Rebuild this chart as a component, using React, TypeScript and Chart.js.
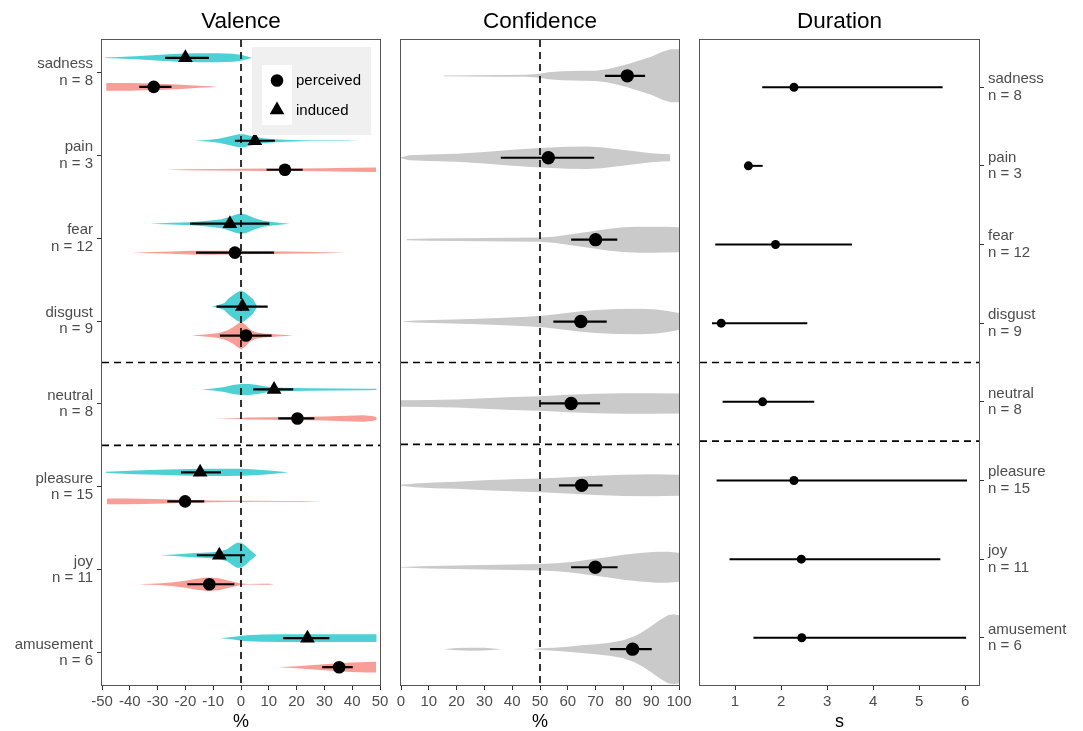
import React, { useEffect, useRef } from 'react';
import { Chart, registerables } from 'chart.js';

Chart.register(...registerables);

const FONT = "'Liberation Sans', Arial, Helvetica, sans-serif";

// ---------- data ----------
const categories = ['sadness', 'pain', 'fear', 'disgust', 'neutral', 'pleasure', 'joy', 'amusement'];
const counts = [8, 3, 12, 9, 8, 15, 11, 6];

const valenceTicks = [-50, -40, -30, -20, -10, 0, 10, 20, 30, 40, 50];
const confidenceTicks = [0, 10, 20, 30, 40, 50, 60, 70, 80, 90, 100];
const durationTicks = [1, 2, 3, 4, 5, 6];

const valenceInducedMean = [-20, 5, -4, 0.5, 11.9, -14.7, -7.8, 23.9];
const valenceInducedLow = [-27.3, -2.2, -18.3, -8.8, 4.4, -21.6, -15.9, 15.2];
const valenceInducedHigh = [-11.5, 12.2, 10.2, 9.6, 18.8, -7.2, 1.4, 31.8];

const valencePerceivedMean = [-31.4, 15.8, -2.2, 1.8, 20.3, -20.1, -11.4, 35.3];
const valencePerceivedLow = [-36.6, 9.2, -16.2, -7.6, 13.4, -26.5, -19.3, 29.2];
const valencePerceivedHigh = [-25, 22.2, 11.9, 11, 26.4, -13.2, -2.4, 40.2];

const confidenceMean = [81.4, 53, 70, 64.7, 61.2, 65, 69.9, 83.3];
const confidenceLow = [73.4, 35.9, 61.2, 54.8, 49.9, 56.8, 61.2, 75.2];
const confidenceHigh = [87.8, 69.5, 77.8, 74, 71.6, 72.5, 77.9, 90.2];

const durationMean = [2.28, 1.29, 1.88, 0.7, 1.6, 2.28, 2.44, 2.45];
const durationLow = [1.59, 1.27, 0.57, 0.5, 0.73, 0.6, 0.88, 1.4];
const durationHigh = [5.51, 1.6, 3.54, 2.57, 2.72, 6.04, 5.46, 6.02];

// violin density profiles: [value, relative half-width]
const valenceInducedViolin: number[][][] = [
  [[-49, 0.3], [-44, 0.8], [-38, 1.5], [-32, 2.5], [-26, 3.5], [-20, 4.2], [-14, 4.5], [-8, 4.5], [-3, 4], [0, 3], [2, 1.5], [4, 0]],
  [[-16.5, 0], [-12, 0.8], [-8, 2], [-4, 4.5], [-1, 6.5], [1, 6.5], [4, 4.5], [8, 2.5], [12, 1.5], [16, 1], [22, 0.5], [26, 0.3], [32, 0.3], [38, 0.3], [42, 0]],
  [[-32.7, 0], [-25, 0.8], [-18, 1.5], [-12, 2.8], [-7, 4.5], [-4, 7], [-2, 9], [0, 10.3], [2, 9], [5, 5.5], [8, 3], [12, 1.5], [17.4, 0]],
  [[-10.5, 0], [-8, 1.5], [-6, 3.5], [-4.5, 8], [-3, 11], [-1.5, 14], [0, 16], [1.5, 14], [3, 10.5], [4.3, 7.5], [5.2, 3], [6, 0]],
  [[-14.1, 0], [-10, 1], [-6, 2.5], [-3, 4.5], [0, 5.5], [3, 5.5], [6, 4.5], [9, 3], [12, 2], [18, 1.5], [25, 1.3], [35, 1], [45, 0.8], [48.8, 0.6]],
  [[-48.8, 0.5], [-44, 1.2], [-38, 1.8], [-30, 2.5], [-22, 3.2], [-14, 3.6], [-6, 3.7], [0, 3.5], [5, 2.8], [10, 1.8], [14, 0.8], [17, 0]],
  [[-29, 0], [-24, 0.8], [-18, 2], [-12, 2.8], [-8, 3.5], [-5, 6], [-3, 10], [-1.5, 12.5], [0, 12.5], [1.5, 10], [3, 6], [5.6, 0]],
  [[-7.5, 0], [-4, 0.8], [-1, 2], [2, 3], [8, 3.6], [15, 3.8], [25, 3.8], [35, 3.8], [45, 3.8], [48.8, 3.8]],
];

const valencePerceivedViolin: number[][][] = [
  [[-48.5, 3.8], [-45, 3.9], [-40, 3.8], [-35, 3.5], [-30, 3.2], [-25, 2.6], [-20, 1.8], [-15, 1], [-11, 0.5], [-8.5, 0]],
  [[-27, 0], [-20, 0.5], [-10, 0.8], [0, 1], [10, 1.2], [20, 1.3], [30, 1.5], [40, 2], [48.6, 2.2]],
  [[-39.3, 0], [-32, 0.6], [-25, 1.2], [-18, 1.8], [-10, 2], [-4, 1.8], [0, 1.5], [8, 1.3], [15, 1.1], [22, 0.8], [30, 0.5], [38, 0]],
  [[-17.7, 0], [-12, 1.2], [-8, 2.5], [-5, 5], [-3, 8], [-1, 12], [0, 14], [1.5, 11], [3, 6.5], [5, 3.5], [8, 2], [12, 1.2], [18.8, 0]],
  [[-10, 0], [-5, 0.3], [0, 0.5], [2, 1], [10, 1.3], [20, 1.5], [30, 2], [38, 2.8], [44, 3.2], [47, 2.5], [48.8, 1.5]],
  [[-48.3, 2.8], [-42, 2.9], [-35, 2.7], [-28, 2.2], [-22, 1.6], [-16, 1.1], [-10, 0.8], [-4, 0.6], [5, 0.5], [15, 0.4], [22, 0.3], [29, 0]],
  [[-36.9, 0], [-30, 0.8], [-25, 1.8], [-20, 3.5], [-16, 5.5], [-12, 6.7], [-8, 6], [-5, 4], [-2, 2], [0, 0.8], [3, 0.3], [7, 0.6], [10, 0.6], [12, 0]],
  [[13.4, 0], [20, 1], [25, 2], [30, 3], [35, 4], [40, 4.8], [45, 5.3], [48.6, 5.4]],
];

const confidenceViolin: number[][][] = [
  [[15.2, 0.4], [25, 0.6], [35, 0.8], [45, 1], [50, 2], [53, 3.5], [58, 4.5], [65, 5], [70, 5.2], [74, 6.5], [78, 9], [82, 12], [86, 15.5], [90, 19], [94, 24], [97, 26.5], [100, 26.5]],
  [[0, 0.5], [3, 2.5], [10, 3.3], [20, 4], [30, 5.8], [40, 8], [50, 9.7], [60, 11], [67, 11.3], [72, 10.5], [78, 8.5], [84, 6.5], [90, 4.5], [94, 3.8], [96.8, 3.5]],
  [[2, 0.6], [10, 1.2], [20, 1.4], [30, 1.6], [40, 1.8], [50, 2.2], [55, 3], [60, 5], [65, 7], [70, 9], [75, 11], [80, 12.3], [85, 13], [90, 13], [95, 12.8], [100, 12.5]],
  [[0.8, 0.3], [5, 1], [15, 1.7], [25, 2.5], [35, 3.5], [45, 4.7], [52, 6], [58, 8], [64, 10], [70, 11.5], [78, 12.5], [86, 12.7], [92, 12], [96, 10.5], [100, 8.5]],
  [[0, 3.2], [10, 3.5], [20, 4], [30, 5.2], [40, 6.5], [50, 7.3], [60, 8.8], [70, 9.8], [80, 10.2], [90, 10.2], [100, 10]],
  [[0, 0.5], [5, 1.8], [12, 2.8], [20, 3.5], [30, 5], [40, 6], [50, 6.8], [60, 8.2], [70, 9.7], [80, 10.7], [90, 11], [100, 10.5]],
  [[0, 0.3], [10, 1.2], [20, 1.7], [30, 2.2], [40, 2.7], [50, 3.3], [56, 4], [62, 5.6], [68, 7.8], [74, 10], [80, 12.5], [86, 14.3], [92, 15.5], [96, 15.5], [100, 14.5]],
  [[15.2, 0], [20, 1.2], [25, 1.5], [30, 1.3], [36.3, 0], [47.6, 0], [50, 0.8], [55, 1.5], [60, 2.5], [65, 3.8], [70, 5], [75, 6.5], [80, 9], [84, 13], [87, 17.5], [90, 23], [93, 29], [96, 34], [98, 35], [100, 34]],
];

// ---------- styles ----------
const CYAN = '#4DD1D5';
const SALMON = '#F99D97';
const GREY = '#CACACA';
const TICK_GREY = '#4D4D4D';
const VALENCE_UNIT_PX = 82.9;
const CONFIDENCE_UNIT_PX = 81.9;
const PAIR_OFFSET = 0.175;

function violinDatasets(profiles: number[][][], centers: number[], unitPx: number, color: string) {
  const out: any[] = [];
  profiles.forEach((prof, i) => {
    const c = centers[i];
    out.push({
      data: prof.map(([x, w]) => ({ x, y: c - w / unitPx })),
      borderColor: 'transparent', borderWidth: 0, pointRadius: 0, fill: false, order: 3, tension: 0,
    });
    out.push({
      data: prof.map(([x, w]) => ({ x, y: c + w / unitPx })),
      borderColor: 'transparent', borderWidth: 0, pointRadius: 0, fill: '-1', backgroundColor: color, order: 3, tension: 0,
    });
  });
  return out;
}

function errorBarDatasets(low: number[], high: number[], centers: number[], width: number) {
  return low.map((lo, i) => ({
    data: [{ x: lo, y: centers[i] }, { x: high[i], y: centers[i] }],
    borderColor: '#000', borderWidth: width, pointRadius: 0, fill: false, order: 1, borderCapStyle: 'butt',
  }));
}

function pointDataset(means: number[], centers: number[], style: string, radius: number) {
  return {
    data: means.map((m, i) => ({ x: m, y: centers[i] })),
    showLine: false, pointStyle: style, pointRadius: radius, pointBackgroundColor: '#000',
    pointBorderColor: '#000', pointBorderWidth: 0, borderColor: '#000', order: 0,
  };
}

function dashedLine(points: { x: number; y: number }[]) {
  return {
    data: points, borderColor: '#000', borderWidth: 1.6, borderDash: [7, 5], pointRadius: 0, fill: false, order: 2,
  };
}

function panelPlugin(title: string, legend: boolean) {
  return {
    id: 'panelDecor',
    afterDatasetsDraw(chart: any) {
      const { ctx, chartArea: a } = chart;
      ctx.save();
      ctx.strokeStyle = '#555';
      ctx.lineWidth = 1;
      ctx.strokeRect(a.left - 0.5, a.top - 0.5, a.right - a.left + 1, a.bottom - a.top + 1);
      ctx.restore();
    },
    afterDraw(chart: any) {
      const { ctx, chartArea: a } = chart;
      ctx.save();
      ctx.fillStyle = '#000';
      ctx.font = `22.5px ${FONT}`;
      ctx.textAlign = 'center';
      ctx.textBaseline = 'alphabetic';
      ctx.fillText(title, (a.left + a.right) / 2, 28);
      if (legend) {
        const lx = a.left + 150;
        const ly = a.top + 7;
        ctx.fillStyle = '#F0F0F0';
        ctx.fillRect(lx, ly, 119, 88);
        ctx.fillStyle = '#FFFFFF';
        ctx.fillRect(lx + 10, ly + 18, 30, 60);
        ctx.fillStyle = '#000';
        ctx.beginPath();
        ctx.arc(lx + 25, ly + 33.5, 6.3, 0, Math.PI * 2);
        ctx.fill();
        const r = 8.5;
        const cx = lx + 25;
        const cy = ly + 63;
        ctx.beginPath();
        ctx.moveTo(cx, cy - r);
        ctx.lineTo(cx + r * Math.sin(Math.PI / 3), cy + r / 2);
        ctx.lineTo(cx - r * Math.sin(Math.PI / 3), cy + r / 2);
        ctx.closePath();
        ctx.fill();
        ctx.font = `15px ${FONT}`;
        ctx.textAlign = 'left';
        ctx.textBaseline = 'middle';
        ctx.fillText('perceived', lx + 44, ly + 34);
        ctx.fillText('induced', lx + 44, ly + 64);
      }
      ctx.restore();
    },
  };
}

function makeConfig(opts: any) {
  const { datasets, xMin, xMax, xTicks, xTitle, yMin, yMax, yMode, padding, title, legend } = opts;
  const yScale: any = {
    type: 'linear',
    reverse: true,
    min: yMin,
    max: yMax,
    display: yMode !== 'none',
    position: yMode === 'right' ? 'right' : 'left',
    afterBuildTicks: (s: any) => { s.ticks = categories.map((_, i) => ({ value: i })); },
    afterFit: (s: any) => { s.width = yMode === 'right' ? 104 : yMode === 'left' ? 100 : 0; },
    grid: { display: true, drawOnChartArea: false, drawTicks: true, tickLength: 5, color: '#333', tickColor: '#333' },
    border: { display: false },
    ticks: {
      autoSkip: false,
      padding: 4,
      color: TICK_GREY,
      font: { family: FONT, size: 15, lineHeight: 1.1 },
      callback: (v: any) => [categories[v], `n = ${counts[v]}`],
    },
  };
  return {
    type: 'line',
    data: { datasets },
    plugins: [panelPlugin(title, legend)],
    options: {
      responsive: false,
      animation: false,
      devicePixelRatio: 1,
      events: [],
      layout: { padding },
      plugins: { legend: { display: false }, tooltip: { enabled: false }, title: { display: false } },
      scales: {
        x: {
          type: 'linear',
          min: xMin,
          max: xMax,
          position: 'bottom',
          afterBuildTicks: (s: any) => { s.ticks = xTicks.map((v: number) => ({ value: v })); },
          afterFit: (s: any) => { s.height = 46; },
          grid: { display: true, drawOnChartArea: false, drawTicks: true, tickLength: 5, color: '#333', tickColor: '#333' },
          border: { display: false },
          ticks: {
            autoSkip: false, maxRotation: 0, minRotation: 0, padding: 3, color: TICK_GREY,
            font: { family: FONT, size: 15, lineHeight: 1.2 },
            callback: (v: any) => String(v),
          },
          title: { display: true, text: xTitle, color: '#000', padding: 0, font: { family: FONT, size: 18, lineHeight: 1 } },
        },
        y: yScale,
      },
    },
  };
}

export default function App() {
  const c1 = useRef<HTMLCanvasElement>(null);
  const c2 = useRef<HTMLCanvasElement>(null);
  const c3 = useRef<HTMLCanvasElement>(null);

  useEffect(() => {
    const idx = categories.map((_, i) => i);
    const upper = idx.map((i) => i - PAIR_OFFSET);
    const lower = idx.map((i) => i + PAIR_OFFSET);

    const vYMin = -0.39, vYMax = 7.39;
    const valenceDatasets = [
      pointDataset(valenceInducedMean, upper, 'triangle', 8.5),
      pointDataset(valencePerceivedMean, lower, 'circle', 6.3),
      ...errorBarDatasets(valenceInducedLow, valenceInducedHigh, upper, 2.2),
      ...errorBarDatasets(valencePerceivedLow, valencePerceivedHigh, lower, 2.2),
      dashedLine([{ x: 0, y: vYMin }, { x: 0, y: vYMax }]),
      dashedLine([{ x: -50, y: 3.5 }, { x: 50, y: 3.5 }]),
      dashedLine([{ x: -50, y: 4.5 }, { x: 50, y: 4.5 }]),
      ...violinDatasets(valenceInducedViolin, upper, VALENCE_UNIT_PX, CYAN),
      ...violinDatasets(valencePerceivedViolin, lower, VALENCE_UNIT_PX, SALMON),
    ];

    const cYMin = -0.4375, cYMax = 7.4375;
    const confidenceDatasets = [
      pointDataset(confidenceMean, idx, 'circle', 6.7),
      ...errorBarDatasets(confidenceLow, confidenceHigh, idx, 2.2),
      dashedLine([{ x: 50, y: cYMin }, { x: 50, y: cYMax }]),
      dashedLine([{ x: 0, y: 3.5 }, { x: 100, y: 3.5 }]),
      dashedLine([{ x: 0, y: 4.5 }, { x: 100, y: 4.5 }]),
      ...violinDatasets(confidenceViolin, idx, CONFIDENCE_UNIT_PX, GREY),
    ];

    const dXMin = 0.239, dXMax = 6.3;
    const durationDatasets = [
      pointDataset(durationMean, idx, 'circle', 4.5),
      ...errorBarDatasets(durationLow, durationHigh, idx, 2),
      dashedLine([{ x: dXMin, y: 3.5 }, { x: dXMax, y: 3.5 }]),
      dashedLine([{ x: dXMin, y: 4.5 }, { x: dXMax, y: 4.5 }]),
    ];

    const charts = [
      new Chart(c1.current as any, makeConfig({
        datasets: valenceDatasets, xMin: -50, xMax: 50, xTicks: valenceTicks, xTitle: '%',
        yMin: vYMin, yMax: vYMax, yMode: 'left', padding: { left: 2, right: 703, top: 40, bottom: 0 },
        title: 'Valence', legend: true,
      }) as any),
      new Chart(c2.current as any, makeConfig({
        datasets: confidenceDatasets, xMin: 0, xMax: 100, xTicks: confidenceTicks, xTitle: '%',
        yMin: cYMin, yMax: cYMax, yMode: 'none', padding: { left: 401, right: 404, top: 40, bottom: 0 },
        title: 'Confidence', legend: false,
      }) as any),
      new Chart(c3.current as any, makeConfig({
        datasets: durationDatasets, xMin: dXMin, xMax: dXMax, xTicks: durationTicks, xTitle: 's',
        yMin: -0.6, yMax: 7.6, yMode: 'right', padding: { left: 700, right: 0, top: 40, bottom: 0 },
        title: 'Duration', legend: false,
      }) as any),
    ];
    return () => charts.forEach((c) => c.destroy());
  }, []);

  const style: React.CSSProperties = { position: 'absolute', left: 0, top: 0, width: 1083, height: 731 };
  return (
    <div style={{ position: 'absolute', left: 0, top: 0, width: 1083, height: 731, background: '#fff', overflow: 'hidden' }}>
      <canvas ref={c1} width={1083} height={731} style={style} />
      <canvas ref={c2} width={1083} height={731} style={style} />
      <canvas ref={c3} width={1083} height={731} style={style} />
    </div>
  );
}
